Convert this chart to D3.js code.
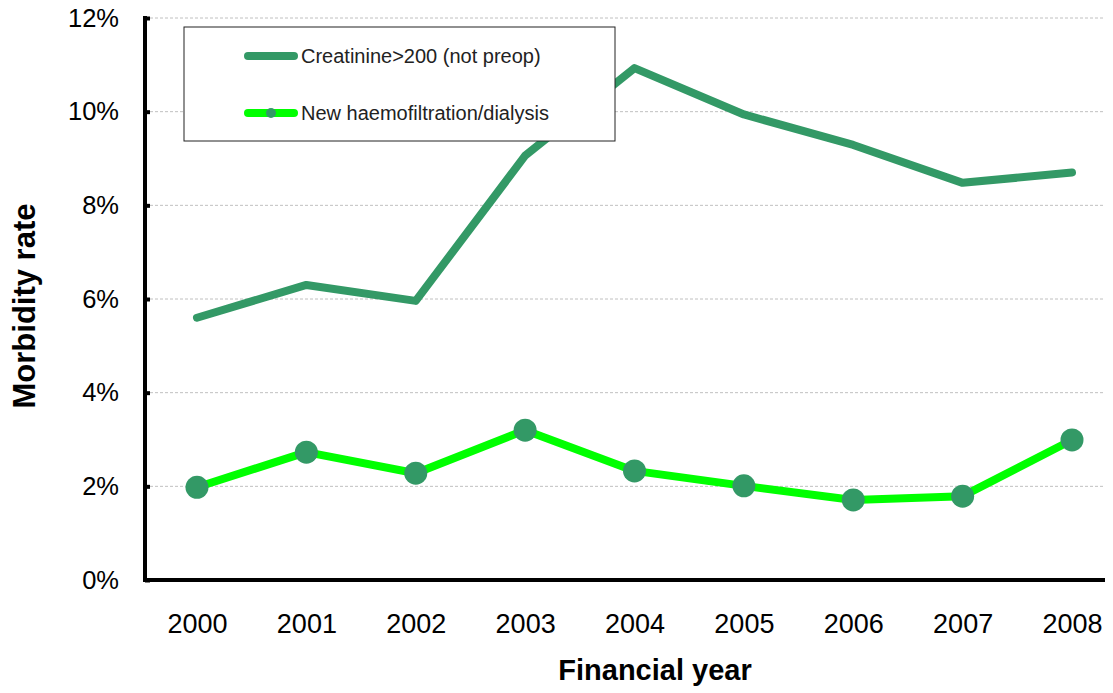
<!DOCTYPE html>
<html>
<head>
<meta charset="utf-8">
<script src="https://cdnjs.cloudflare.com/ajax/libs/d3/7.8.5/d3.min.js"></script>
<style>
  body { margin: 0; background: #fff; }
  svg text { font-family: "Liberation Sans", Arial, sans-serif; }
</style>
</head>
<body>
<svg id="chart" width="1113" height="693"></svg>
<script>
  'use strict';

  var years = ['2000', '2001', '2002', '2003', '2004', '2005', '2006', '2007', '2008'];
  var creatinine = [5.60, 6.30, 5.96, 9.06, 10.93, 9.94, 9.29, 8.48, 8.70];
  var haemofiltration = [1.98, 2.73, 2.28, 3.20, 2.33, 2.01, 1.71, 1.79, 2.99];
  var yTicks = [0, 2, 4, 6, 8, 10, 12];
  var seriesNames = ['Creatinine>200  (not preop)', 'New haemofiltration/dialysis'];

  var darkGreen = '#339966', brightGreen = '#00ff00';

  var svg = d3.select('#chart');

  var x = d3.scalePoint().domain(years).range([197, 1072]);
  var y = d3.scaleLinear().domain([0, 12]).range([580, 18]);
  var plotLeft = 145, plotRight = 1105;

  // gridlines
  svg.append('g')
    .selectAll('line')
    .data(yTicks.filter(function(d) { return d > 0; }))
    .enter().append('line')
      .attr('x1', plotLeft).attr('x2', plotRight)
      .attr('y1', function(d) { return y(d); })
      .attr('y2', function(d) { return y(d); })
      .attr('stroke', '#c0c0c0')
      .attr('stroke-width', 1)
      .attr('stroke-dasharray', '3,2');

  // y axis
  var yAxis = d3.axisLeft(y)
    .tickValues(yTicks)
    .tickFormat(function(d) { return d + '%'; })
    .tickSize(-5)
    .tickPadding(26);
  var gy = svg.append('g').attr('transform', 'translate(' + plotLeft + ',0)').call(yAxis);
  gy.select('.domain').remove();
  gy.selectAll('.tick line').attr('stroke', '#000').attr('stroke-width', 4);
  gy.selectAll('.tick text').attr('font-size', 25.5).attr('fill', '#000');
  gy.append('line')
    .attr('x1', 0).attr('x2', 0)
    .attr('y1', y(12) - 2).attr('y2', y(0) + 2)
    .attr('stroke', '#000').attr('stroke-width', 4);

  // x axis
  var xAxis = d3.axisBottom(x).tickSize(0).tickPadding(34);
  var gx = svg.append('g').attr('transform', 'translate(0,' + y(0) + ')').call(xAxis);
  gx.select('.domain').remove();
  gx.selectAll('.tick text').attr('font-size', 27).attr('fill', '#000');
  gx.append('line')
    .attr('x1', plotLeft - 2).attr('x2', plotRight)
    .attr('y1', 0).attr('y2', 0)
    .attr('stroke', '#000').attr('stroke-width', 4);

  // axis titles
  svg.append('text')
    .attr('x', 655).attr('y', 680)
    .attr('text-anchor', 'middle')
    .attr('font-size', 29).attr('font-weight', 'bold')
    .text('Financial year');
  svg.append('text')
    .attr('transform', 'translate(35,306) rotate(-90)')
    .attr('text-anchor', 'middle')
    .attr('font-size', 31).attr('font-weight', 'bold')
    .text('Morbidity rate');

  var line = d3.line()
    .x(function(d, i) { return x(years[i]); })
    .y(function(d) { return y(d); });

  svg.append('path')
    .datum(creatinine)
    .attr('d', line)
    .attr('fill', 'none')
    .attr('stroke', darkGreen)
    .attr('stroke-width', 8)
    .attr('stroke-linecap', 'round')
    .attr('stroke-linejoin', 'round');

  svg.append('path')
    .datum(haemofiltration)
    .attr('d', line)
    .attr('fill', 'none')
    .attr('stroke', brightGreen)
    .attr('stroke-width', 8)
    .attr('stroke-linejoin', 'round');

  svg.append('g')
    .selectAll('circle')
    .data(haemofiltration)
    .enter().append('circle')
      .attr('cx', function(d, i) { return x(years[i]); })
      .attr('cy', function(d) { return y(d); })
      .attr('r', 11.5)
      .attr('fill', darkGreen);

  // legend
  var legend = svg.append('g').attr('transform', 'translate(184,27)');
  legend.append('rect')
    .attr('width', 431).attr('height', 114)
    .attr('fill', '#fff')
    .attr('stroke', '#222').attr('stroke-width', 1);

  var items = legend.selectAll('g.item')
    .data(seriesNames)
    .enter().append('g')
      .attr('class', 'item')
      .attr('transform', function(d, i) { return 'translate(0,' + (29 + i * 57) + ')'; });

  items.append('line')
    .attr('x1', 64).attr('x2', 110)
    .attr('stroke', function(d, i) { return i === 0 ? darkGreen : brightGreen; })
    .attr('stroke-width', 8)
    .attr('stroke-linecap', 'round');

  items.filter(function(d, i) { return i === 1; })
    .append('circle')
      .attr('cx', 87).attr('r', 5)
      .attr('fill', darkGreen);

  items.append('text')
    .attr('x', 117).attr('dy', '0.35em')
    .attr('font-size', 20)
    .attr('fill', '#222')
    .text(function(d) { return d; });
</script>
</body>
</html>
